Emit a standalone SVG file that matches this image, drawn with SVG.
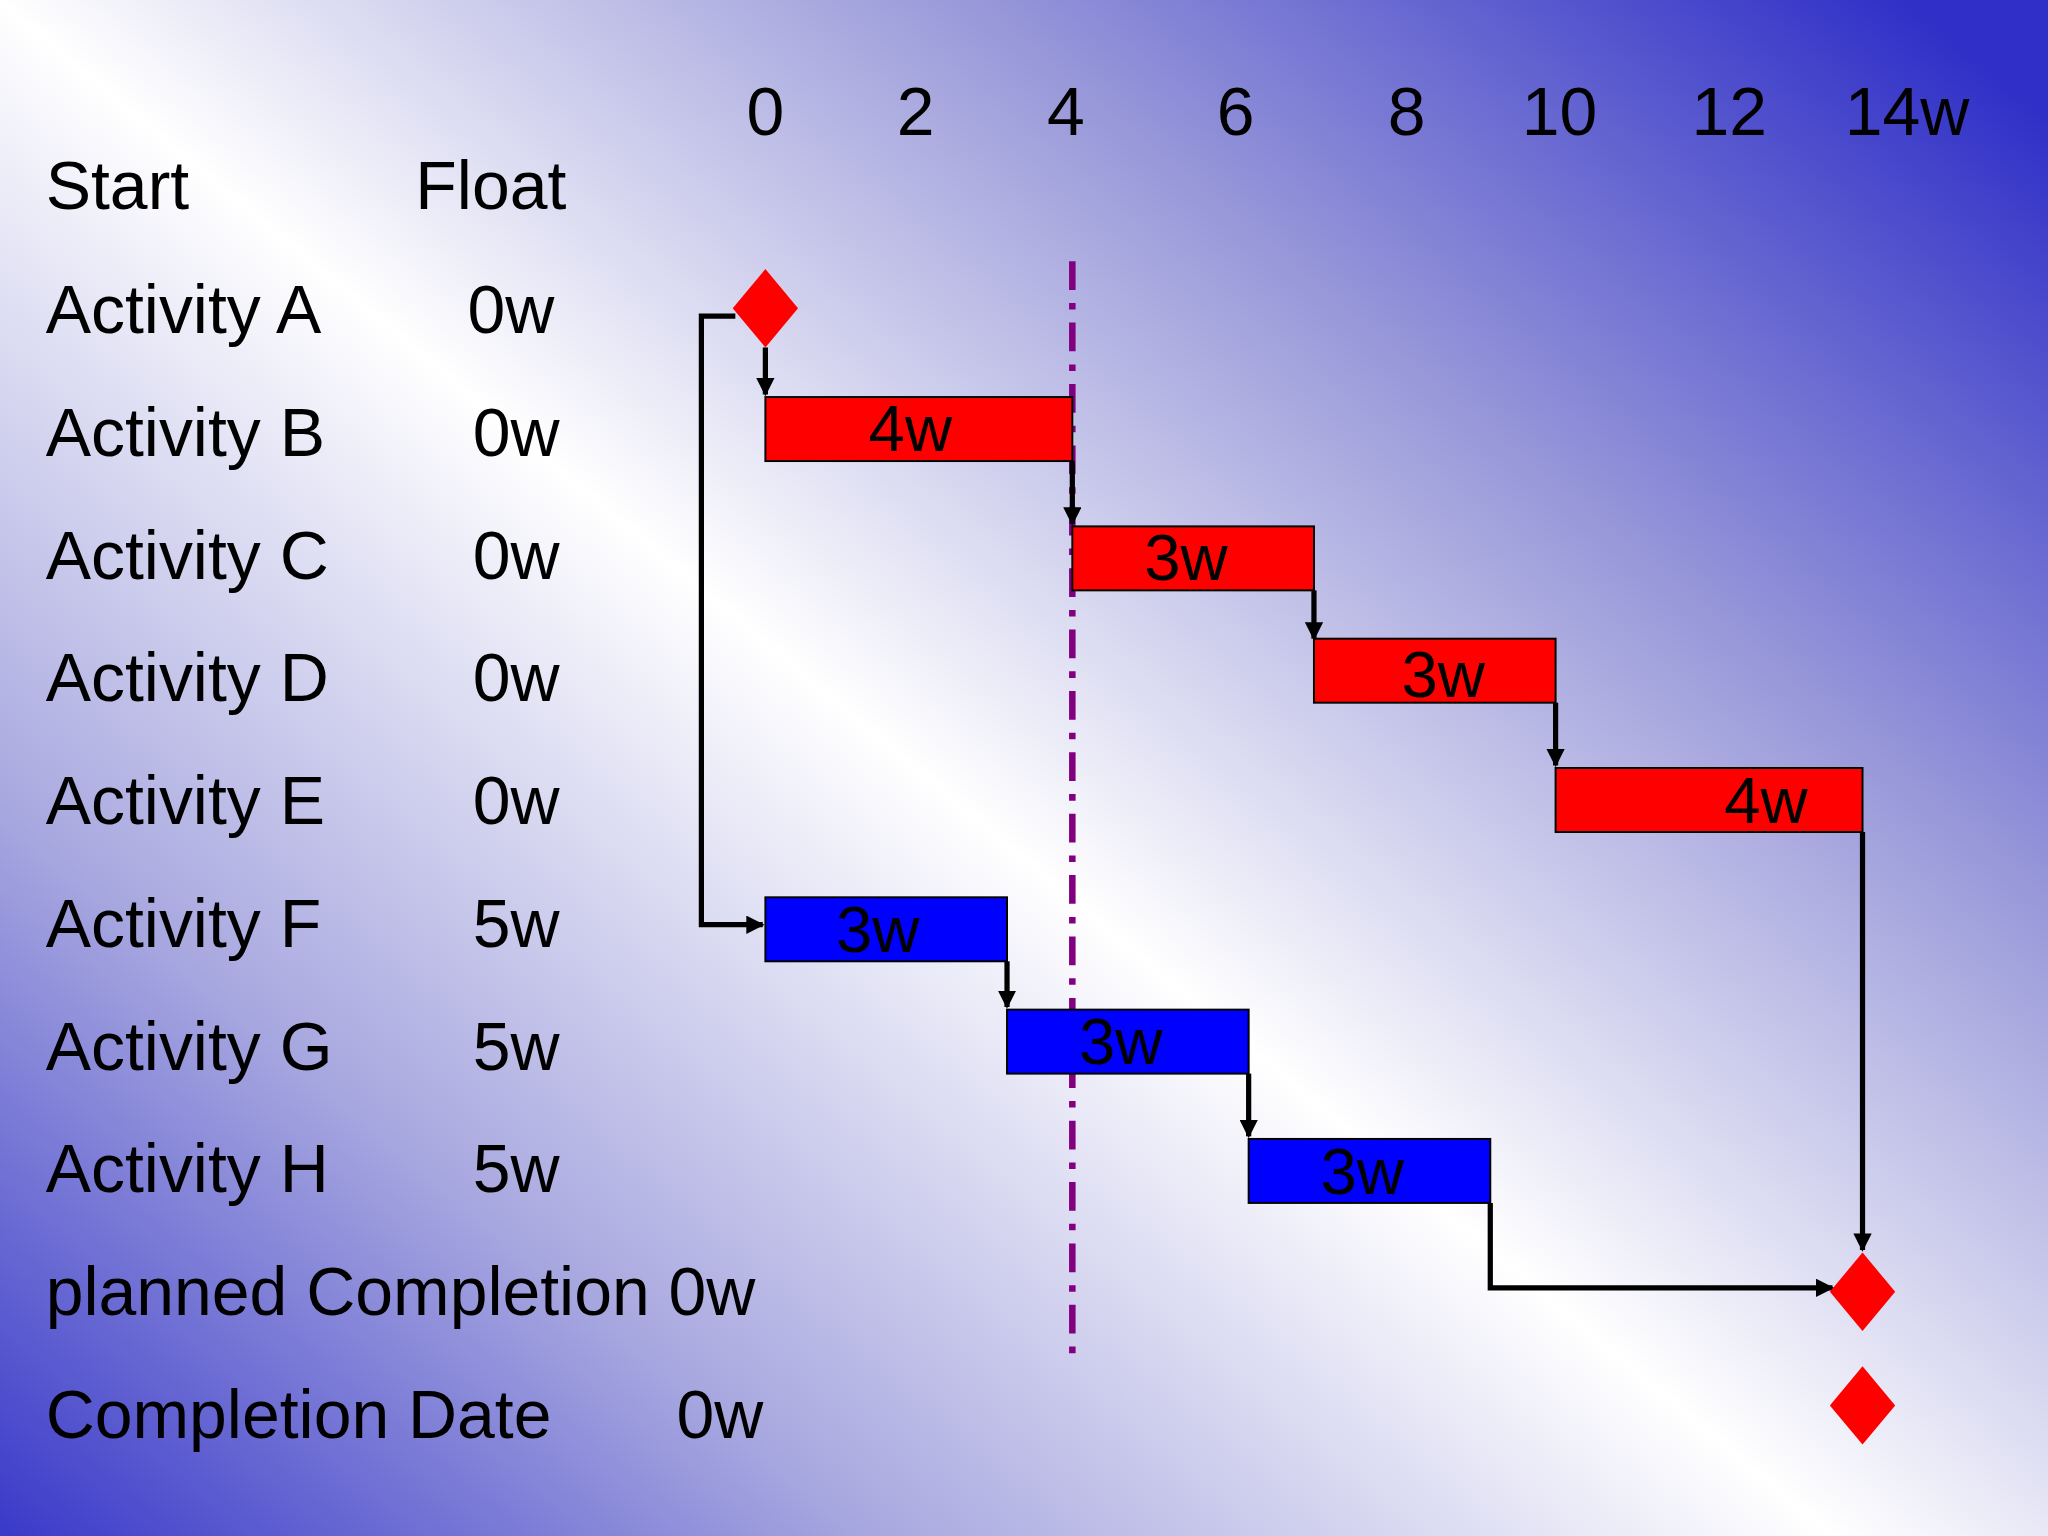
<svg xmlns="http://www.w3.org/2000/svg" width="2048" height="1536" viewBox="0 0 2048 1536">
<defs>
<linearGradient id="bg" x1="1700" y1="-170" x2="130" y2="1706" gradientUnits="userSpaceOnUse">
<stop offset="0" stop-color="#3030c8"/>
<stop offset="0.25" stop-color="#9a9ada"/>
<stop offset="0.5" stop-color="#ffffff"/>
<stop offset="0.75" stop-color="#a8a8e0"/>
<stop offset="1" stop-color="#3030c8"/>
</linearGradient>
<marker id="ah" viewBox="0 0 10 10" refX="9" refY="5" markerWidth="3.5" markerHeight="3.5" orient="auto"><path d="M0,0 L10,5 L0,10 z" fill="#000"/></marker>
<style>
text{font-family:"Liberation Sans",Arial,sans-serif;fill:#000}
.t{font-size:52px}
.b{font-size:50px;text-anchor:middle}
.red{fill:#ff0000;stroke:#000;stroke-width:1.5}
.blue{fill:#0000ff;stroke:#000;stroke-width:1.5}
.c{fill:none;stroke:#000;stroke-width:4;marker-end:url(#ah)}
</style>
</defs>
<rect width="2048" height="1536" fill="url(#bg)"/>
<g transform="scale(1.30612)">
<g id="axis">
<text x="586" y="103" class="t" text-anchor="middle">0</text>
<text x="701" y="103" class="t" text-anchor="middle">2</text>
<text x="816" y="103" class="t" text-anchor="middle">4</text>
<text x="946" y="103" class="t" text-anchor="middle">6</text>
<text x="1077" y="103" class="t" text-anchor="middle">8</text>
<text x="1194" y="103" class="t" text-anchor="middle">10</text>
<text x="1324" y="103" class="t" text-anchor="middle">12</text>
<text x="1460" y="103" class="t" text-anchor="middle">14w</text>
</g>
<g id="labels">
<text x="35" y="160" class="t">Start</text><text x="318" y="160" class="t">Float</text>
<text x="35" y="255" class="t">Activity A</text><text x="358" y="255" class="t">0w</text>
<text x="35" y="349" class="t">Activity B</text><text x="362" y="349" class="t">0w</text>
<text x="35" y="443" class="t">Activity C</text><text x="362" y="443" class="t">0w</text>
<text x="35" y="537" class="t">Activity D</text><text x="362" y="537" class="t">0w</text>
<text x="35" y="631" class="t">Activity E</text><text x="362" y="631" class="t">0w</text>
<text x="35" y="725" class="t">Activity F</text><text x="362" y="725" class="t">5w</text>
<text x="35" y="819" class="t">Activity G</text><text x="362" y="819" class="t">5w</text>
<text x="35" y="913" class="t">Activity H</text><text x="362" y="913" class="t">5w</text>
<text x="35" y="1007" class="t">planned Completion 0w</text>
<text x="35" y="1101" class="t">Completion Date</text><text x="518" y="1101" class="t">0w</text>
</g>
<line id="today" x1="821" y1="200" x2="821" y2="1045" stroke="#800080" stroke-width="5" stroke-dasharray="22,10,5,10"/>
<g id="connectors">
<path class="c" d="M586,266 V302"/>
<path class="c" d="M563,242 H537 V708 H584"/>
<path class="c" d="M821,353 V401"/>
<path class="c" d="M1006,452 V489"/>
<path class="c" d="M1191,538 V586"/>
<path class="c" d="M771,736 V771"/>
<path class="c" d="M956,822 V870"/>
<path class="c" d="M1141,921 V986 H1403"/>
<path class="c" d="M1426,637 V957"/>
</g>
<g id="A"><polygon points="586,206 611,236 586,266 561,236" fill="#ff0000"/></g>
<g id="B"><rect class="red" x="586" y="304" width="235" height="49"/><text class="b" x="697" y="345">4w</text></g>
<g id="C"><rect class="red" x="821" y="403" width="185" height="49"/><text class="b" x="908" y="444">3w</text></g>
<g id="D"><rect class="red" x="1006" y="489" width="185" height="49"/><text class="b" x="1105" y="534">3w</text></g>
<g id="E"><rect class="red" x="1191" y="588" width="235" height="49"/><text class="b" x="1352" y="630">4w</text></g>
<g id="F"><rect class="blue" x="586" y="687" width="185" height="49"/><text class="b" x="672" y="729">3w</text></g>
<g id="G"><rect class="blue" x="771" y="773" width="185" height="49"/><text class="b" x="858" y="815">3w</text></g>
<g id="H"><rect class="blue" x="956" y="872" width="185" height="49"/><text class="b" x="1043" y="914">3w</text></g>
<g id="planned"><polygon points="1426,959 1451,989 1426,1019 1401,989" fill="#ff0000"/></g>
<g id="completion"><polygon points="1426,1046 1451,1076 1426,1106 1401,1076" fill="#ff0000"/></g>
</g>
</svg>
